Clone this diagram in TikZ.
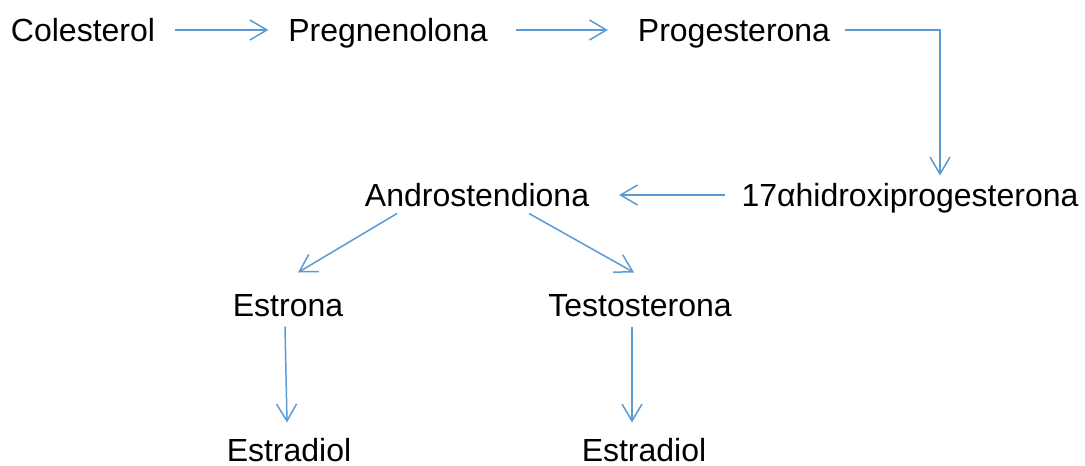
\documentclass[tikz,border=0pt]{standalone}
\usepackage{fontspec}
\setmainfont{Liberation Sans}
\usetikzlibrary{arrows.meta}
\definecolor{linkblue}{HTML}{5B9BD5}

\begin{document}
\begin{tikzpicture}[x=1pt, y=-1pt,
textnode/.style={inner sep=0pt, outer sep=0pt, text height=23pt, text depth=0pt, font=\fontsize{32}{38}\selectfont},
link/.style={draw=linkblue, line width=1.5pt, -{Straight Barb[length=17pt,width=20pt,line width=1.5pt]}}
]
    \useasboundingbox (0,0) rectangle (1085,466);

    \node [textnode] (col) at (83,30) {Colesterol};
    \node [textnode] (preg) at (388,30) {Pregnenolona};
    \node [textnode] (prog) at (734,30) {Progesterona};

    \node [textnode] (hidroxi) at (910,195) {17αhidroxiprogesterona};
    \node [textnode] (andro) at (477,195) {Androstendiona};

    \node [textnode] (estrona) at (288,305) {Estrona};
    \node [textnode] (testo) at (640,305) {Testosterona};

    \node [textnode] (estradiolA) at (289,450) {Estradiol};
    \node [textnode] (estradiolB) at (644,450) {Estradiol};

    \draw [link, shorten <=20pt, shorten >=20pt] (col) -- (preg);
    \draw [link, shorten <=28pt, shorten >=30pt] (preg) -- (prog);
    \draw [link, shorten <=15pt, shorten >=8pt] (prog) -| ([xshift=30pt]hidroxi.north);
    \draw [link, shorten <=17pt, shorten >=30pt] (hidroxi) -- (andro);

    \draw [link] ([xshift=-80pt,yshift=-7pt]andro.south) -- ([xshift=10pt,yshift=21pt]estrona.north);
    \draw [link] ([xshift=52pt,yshift=-7pt]andro.south) -- ([xshift=-6pt,yshift=21pt]testo.north);

    \draw [link] ([xshift=-3pt,yshift=-10pt]estrona.south) -- ([xshift=-2pt,yshift=16pt]estradiolA.north);
    \draw [link] ([xshift=-8pt,yshift=-10pt]testo.south) -- ([xshift=-12pt,yshift=16pt]estradiolB.north);
\end{tikzpicture}
\end{document}
